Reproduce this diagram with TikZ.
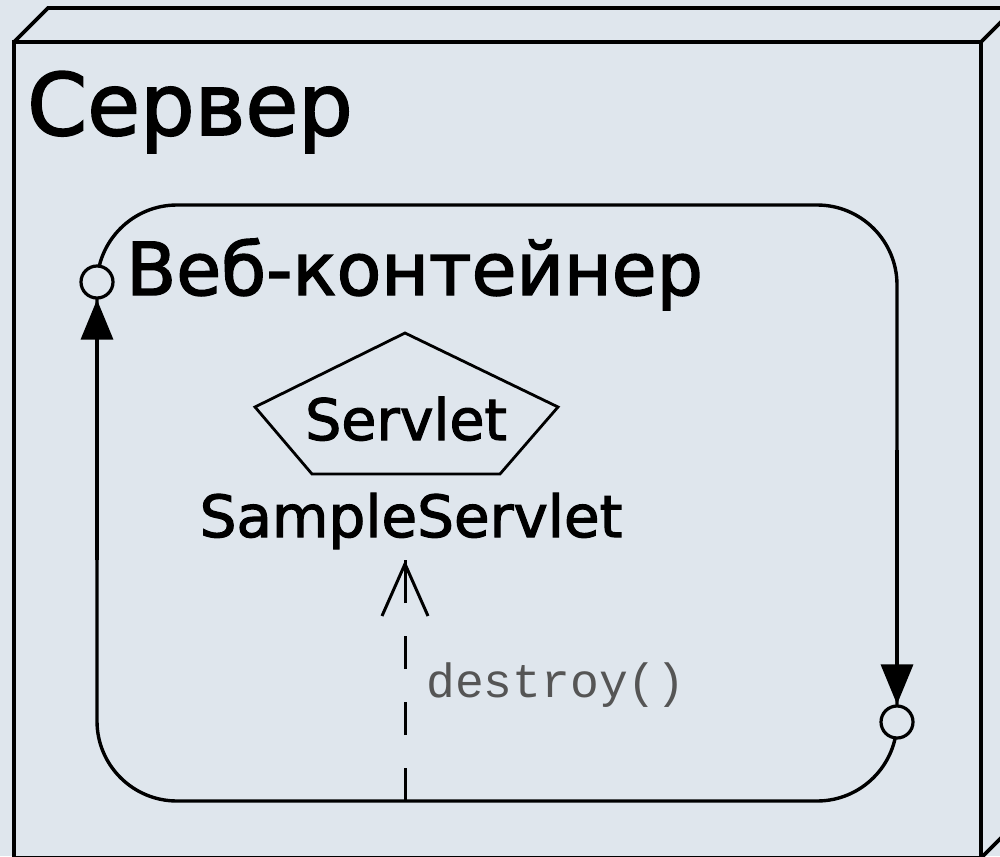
\documentclass[tikz,border=0pt]{standalone}
\usepackage{fontspec}
\setmainfont{DejaVu Sans}
\newfontfamily\labelfont{DejaVu Sans}[FakeBold=2]
\newfontfamily\codefont{Liberation Mono}
\usetikzlibrary{arrows.meta}
\definecolor{paper}{RGB}{223,230,237}
\definecolor{codegray}{RGB}{85,85,85}

\begin{document}
\begin{tikzpicture}[x=1pt,y=-1pt,
  boxline/.style={line width=3.6pt, draw=black, line join=miter},
  container/.style={line width=3.4pt, draw=black, rounded corners=80pt},
  port/.style={circle, draw=black, line width=3.2pt, fill=paper,
               minimum size=32pt, inner sep=0pt},
  flow/.style={line width=3.4pt, -{Triangle[length=40pt, width=32pt]}},
  call/.style={line width=3pt, dash pattern=on 33pt off 33pt},
  callshaft/.style={line width=3pt},
  callhead/.style={line width=3pt, -{Straight Barb[length=52pt, width=46pt, line width=3pt]}},
  stereo/.style={line width=2.8pt, draw=black, line join=miter},
  txt/.style={inner sep=0pt, anchor=base west}]

  % page and background
  \useasboundingbox (0,0) rectangle (1000,856);
  \fill[paper] (0,0) rectangle (1000,856);
  \clip (0,0) rectangle (1000,856);

  % server node drawn as a 3D box
  \draw[boxline] (14,42) -- (48,8) -- (1015,8) -- (1015,824) -- (981,858);
  \draw[boxline] (981,42) -- (1015,8);
  \draw[boxline] (14,42) rectangle (981,858);
  \node[txt, font=\labelfont\fontsize{86pt}{90pt}\selectfont] (server) at (27,135) {Сервер};

  % web container
  \draw[container] (97,205) rectangle (897,801);
  \node[txt, font=\labelfont\fontsize{73pt}{80pt}\selectfont] (webc) at (126,295) {Веб-контейнер};

  % ports and the arrows along the container sides
  \node[port] (portL) at (97,282) {};
  \node[port] (portR) at (897,722) {};
  \coordinate (sideL) at (97,560);
  \coordinate (sideR) at (897,450);
  \draw[flow] (sideL) -- (portL);
  \draw[flow] (sideR) -- (portR);

  % servlet stereotype pentagon
  \draw[stereo] (405,333) -- (558,407) -- (500,474) -- (312,474) -- (255,407) -- cycle;
  \node[inner sep=0pt, anchor=base, font=\labelfont\fontsize{57pt}{60pt}\selectfont] (stype) at (406,440) {Servlet};
  \node[inner sep=0pt, anchor=base, font=\labelfont\fontsize{58pt}{62pt}\selectfont] (ss) at (411,537) {SampleServlet};

  % destroy() call: dashed shaft, solid end piece and the open head
  \coordinate (callstart) at (405,801);
  \coordinate (calltip) at ([yshift=-11pt]callstart |- ss.south);
  \draw[call] (callstart) -- (calltip);
  \draw[callshaft] ([yshift=-40pt]calltip) -- (calltip);
  \draw[callhead] ([yshift=-40pt]calltip) -- (calltip);
  \node[txt, text=codegray, font=\codefont\fontsize{48pt}{52pt}\selectfont] (destroy) at (426,697) {destroy()};
\end{tikzpicture}
\end{document}
